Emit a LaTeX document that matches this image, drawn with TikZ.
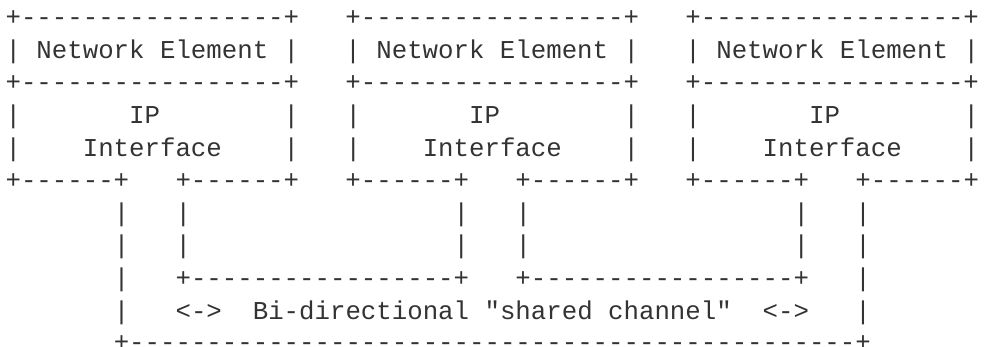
\documentclass[tikz,border=0pt]{standalone}
\usepackage{fontspec}
\setmonofont{Liberation Mono}
\definecolor{ink}{HTML}{333333}
\begin{document}
\begin{tikzpicture}[x=1pt,y=1pt,
  asciiline/.style={anchor=base west, inner sep=0pt, outer sep=0pt, text=ink,
    font=\ttfamily\fontsize{25.75}{32.6}\selectfont}]
\useasboundingbox (0,0) rectangle (986,346);
\node[asciiline] (l0) at (5.6,320.3) {+-----------------+~~~+-----------------+~~~+-----------------+};
\node[asciiline] (l1) at (5.6,287.7) {|~Network~Element~|~~~|~Network~Element~|~~~|~Network~Element~|};
\node[asciiline] (l2) at (5.6,255.1) {+-----------------+~~~+-----------------+~~~+-----------------+};
\node[asciiline] (l3) at (5.6,222.5) {|~~~~~~~IP~~~~~~~~|~~~|~~~~~~~IP~~~~~~~~|~~~|~~~~~~~IP~~~~~~~~|};
\node[asciiline] (l4) at (5.6,189.9) {|~~~~Interface~~~~|~~~|~~~~Interface~~~~|~~~|~~~~Interface~~~~|};
\node[asciiline] (l5) at (5.6,157.3) {+------+~~~+------+~~~+------+~~~+------+~~~+------+~~~+------+};
\node[asciiline] (l6) at (5.6,124.7) {~~~~~~~|~~~|~~~~~~~~~~~~~~~~~|~~~|~~~~~~~~~~~~~~~~~|~~~|};
\node[asciiline] (l7) at (5.6,92.1) {~~~~~~~|~~~|~~~~~~~~~~~~~~~~~|~~~|~~~~~~~~~~~~~~~~~|~~~|};
\node[asciiline] (l8) at (5.6,59.5) {~~~~~~~|~~~+-----------------+~~~+-----------------+~~~|};
\node[asciiline] (l9) at (5.6,26.9) {~~~~~~~|~~~<->~~Bi-directional~"shared~channel"~~<->~~~|};
\node[asciiline] (l10) at (5.6,-4.7) {~~~~~~~+-----------------------------------------------+};
\end{tikzpicture}
\end{document}
